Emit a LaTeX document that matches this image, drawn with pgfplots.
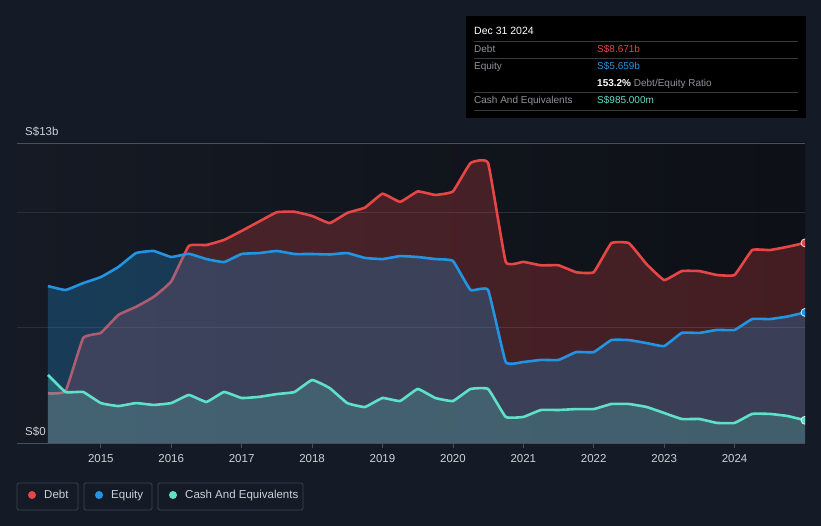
\documentclass[border=0pt]{standalone}
\usepackage{pgfplots}
\pgfplotsset{compat=1.18}
\usepackage{fontspec}
\setmainfont{Liberation Sans}
\definecolor{pagebg}{HTML}{151B26}
\definecolor{plotbgL}{HTML}{151A24}
\definecolor{plotbgR}{HTML}{0D1016}
\definecolor{debtc}{HTML}{E64646}
\definecolor{eqc}{HTML}{2394DF}
\definecolor{cashc}{HTML}{5FE0C9}
\definecolor{gridc}{HTML}{2A2F39}
\definecolor{axisc}{HTML}{4A4F59}
\definecolor{txtc}{HTML}{CDD1D7}
\definecolor{graytxt}{HTML}{8E939A}
\definecolor{sepc}{HTML}{3A3B3E}
\definecolor{legbord}{HTML}{3E434D}

\pgfplotstableread{
x y
2014.25 2.15
2014.5 2.25
2014.75 4.55
2015.0 4.77
2015.25 5.55
2015.5 5.9
2015.75 6.33
2016.0 7.0
2016.25 8.54
2016.5 8.58
2016.75 8.8
2017.0 9.19
2017.25 9.6
2017.5 10.0
2017.75 10.02
2018.0 9.84
2018.25 9.53
2018.5 9.97
2018.75 10.2
2019.0 10.8
2019.25 10.45
2019.5 10.9
2019.75 10.75
2020.0 10.9
2020.25 12.13
2020.5 12.13
2020.75 7.85
2021.0 7.85
2021.25 7.7
2021.5 7.7
2021.75 7.4
2022.0 7.4
2022.25 8.66
2022.5 8.66
2022.75 7.75
2023.0 7.06
2023.25 7.45
2023.5 7.45
2023.75 7.28
2024.0 7.28
2024.25 8.36
2024.5 8.36
2024.75 8.5
2025.0 8.671
}\debt

\pgfplotstableread{
x y
2014.25 6.8
2014.5 6.63
2014.75 6.93
2015.0 7.19
2015.25 7.63
2015.5 8.23
2015.75 8.32
2016.0 8.06
2016.25 8.2
2016.5 7.97
2016.75 7.84
2017.0 8.19
2017.25 8.23
2017.5 8.32
2017.75 8.19
2018.0 8.19
2018.25 8.17
2018.5 8.23
2018.75 8.02
2019.0 7.97
2019.25 8.1
2019.5 8.06
2019.75 7.97
2020.0 7.89
2020.25 6.63
2020.5 6.63
2020.75 3.51
2021.0 3.51
2021.25 3.6
2021.5 3.6
2021.75 3.94
2022.0 3.94
2022.25 4.46
2022.5 4.46
2022.75 4.33
2023.0 4.2
2023.25 4.77
2023.5 4.77
2023.75 4.9
2024.0 4.9
2024.25 5.37
2024.5 5.37
2024.75 5.48
2025.0 5.659
}\equity

\pgfplotstableread{
x y
2014.25 2.95
2014.5 2.21
2014.75 2.21
2015.0 1.73
2015.25 1.6
2015.5 1.73
2015.75 1.65
2016.0 1.73
2016.25 2.08
2016.5 1.78
2016.75 2.21
2017.0 1.95
2017.25 2.0
2017.5 2.12
2017.75 2.21
2018.0 2.73
2018.25 2.38
2018.5 1.73
2018.75 1.56
2019.0 1.95
2019.25 1.82
2019.5 2.34
2019.75 1.95
2020.0 1.82
2020.25 2.34
2020.5 2.34
2020.75 1.13
2021.0 1.13
2021.25 1.43
2021.5 1.43
2021.75 1.47
2022.0 1.47
2022.25 1.69
2022.5 1.69
2022.75 1.56
2023.0 1.3
2023.25 1.04
2023.5 1.04
2023.75 0.87
2024.0 0.87
2024.25 1.26
2024.5 1.26
2024.75 1.17
2025.0 0.985
}\cash

\begin{document}
\begin{tikzpicture}[x=1pt,y=1pt]
\fill[pagebg] (0,0) rectangle (821,526);
\useasboundingbox (0,0) rectangle (821,526);
\begin{axis}[
  at={(17pt,83pt)}, anchor=south west, scale only axis,
  width=788pt, height=300pt,
  xmin=2013.81, xmax=2025.0, ymin=0, ymax=13,
  axis background/.style={left color=plotbgL, right color=plotbgR},
  axis x line*=bottom, axis y line*=left,
  y axis line style={draw=none},
  x axis line style={axisc, line width=0.8pt, -},
  xtick={2015,2016,...,2024},
  tick align=outside, major tick length=5pt,
  xtick style={axisc, line width=0.8pt},
  xticklabel style={txtc, font=\fontsize{11.5}{13}\selectfont, /pgf/number format/1000 sep={}, yshift=-2.5pt},
  /pgf/number format/assume math mode=true,
  ytick={5,10}, yticklabels={}, ytick style={draw=none},
  ymajorgrids, grid style={gridc, line width=0.8pt},
  extra y ticks={13}, extra y tick labels={},
  extra y tick style={grid style={axisc, line width=0.8pt}, tick style={draw=none}},
  clip marker paths=true,
  every axis plot/.append style={smooth, tension=0.2},
]
\addplot[draw=none, fill=debtc, fill opacity=0.25] table {\debt} \closedcycle;
\addplot[debtc, line width=2.6pt] table {\debt};
\addplot[draw=none, fill=eqc, fill opacity=0.28] table {\equity} \closedcycle;
\addplot[eqc, line width=2.6pt] table {\equity};
\addplot[draw=none, fill=cashc, fill opacity=0.2] table {\cash} \closedcycle;
\addplot[cashc, line width=2.6pt] table {\cash};
\addplot[only marks, mark=*, mark size=4pt, mark options={fill=debtc, draw=white!80!debtc, line width=0.8pt}] coordinates {(2025.0,8.671)};
\addplot[only marks, mark=*, mark size=4pt, mark options={fill=eqc, draw=white!80!eqc, line width=0.8pt}] coordinates {(2025.0,5.659)};
\addplot[only marks, mark=*, mark size=4pt, mark options={fill=cashc, draw=white!80!cashc, line width=0.8pt}] coordinates {(2025.0,0.985)};
\end{axis}
% y labels
\node[anchor=base west, txtc, font=\fontsize{11.5}{13}\selectfont, inner sep=0pt] at (25,390) {S\$13b};
\node[anchor=base west, txtc, font=\fontsize{11.5}{13}\selectfont, inner sep=0pt] at (25,90) {S\$0};
% tooltip
\fill[black] (466,408) rectangle (806,510);
\node[anchor=base west, white, font=\fontsize{10.5}{12}\selectfont, inner sep=0pt] at (474,491) {Dec 31 2024};
\foreach \yy in {485,468,434,416} {\draw[sepc, line width=0.8pt] (474,\yy) -- (798,\yy);}
\node[anchor=base west, graytxt, font=\fontsize{10}{12}\selectfont, inner sep=0pt] at (474,473) {Debt};
\node[anchor=base west, debtc, font=\fontsize{10}{12}\selectfont, inner sep=0pt] at (597,473) {S\$8.671b};
\node[anchor=base west, graytxt, font=\fontsize{10}{12}\selectfont, inner sep=0pt] at (474,456) {Equity};
\node[anchor=base west, eqc, font=\fontsize{10}{12}\selectfont, inner sep=0pt] at (597,456) {S\$5.659b};
\node[anchor=base west, font=\fontsize{10}{12}\selectfont, inner sep=0pt] at (597,439) {\textcolor{white}{\textbf{153.2\%}} \textcolor{graytxt}{Debt/Equity Ratio}};
\node[anchor=base west, graytxt, font=\fontsize{10}{12}\selectfont, inner sep=0pt] at (474,422) {Cash And Equivalents};
\node[anchor=base west, cashc, font=\fontsize{10}{12}\selectfont, inner sep=0pt] at (597,422) {S\$985.000m};
% legend
\draw[legbord, line width=0.8pt, rounded corners=1.5pt] (17,16) rectangle (78,43);
\draw[legbord, line width=0.8pt, rounded corners=1.5pt] (84,16) rectangle (152,43);
\draw[legbord, line width=0.8pt, rounded corners=1.5pt] (158,16) rectangle (303,43);
\fill[debtc] (32,31) circle (4);
\fill[eqc] (99,31) circle (4);
\fill[cashc] (173,31) circle (4);
\node[anchor=base west, txtc, font=\fontsize{11.5}{13}\selectfont, inner sep=0pt] at (44,27) {Debt};
\node[anchor=base west, txtc, font=\fontsize{11.5}{13}\selectfont, inner sep=0pt] at (111,27) {Equity};
\node[anchor=base west, txtc, font=\fontsize{11.5}{13}\selectfont, inner sep=0pt] at (185,27) {Cash And Equivalents};
\end{tikzpicture}
\end{document}
